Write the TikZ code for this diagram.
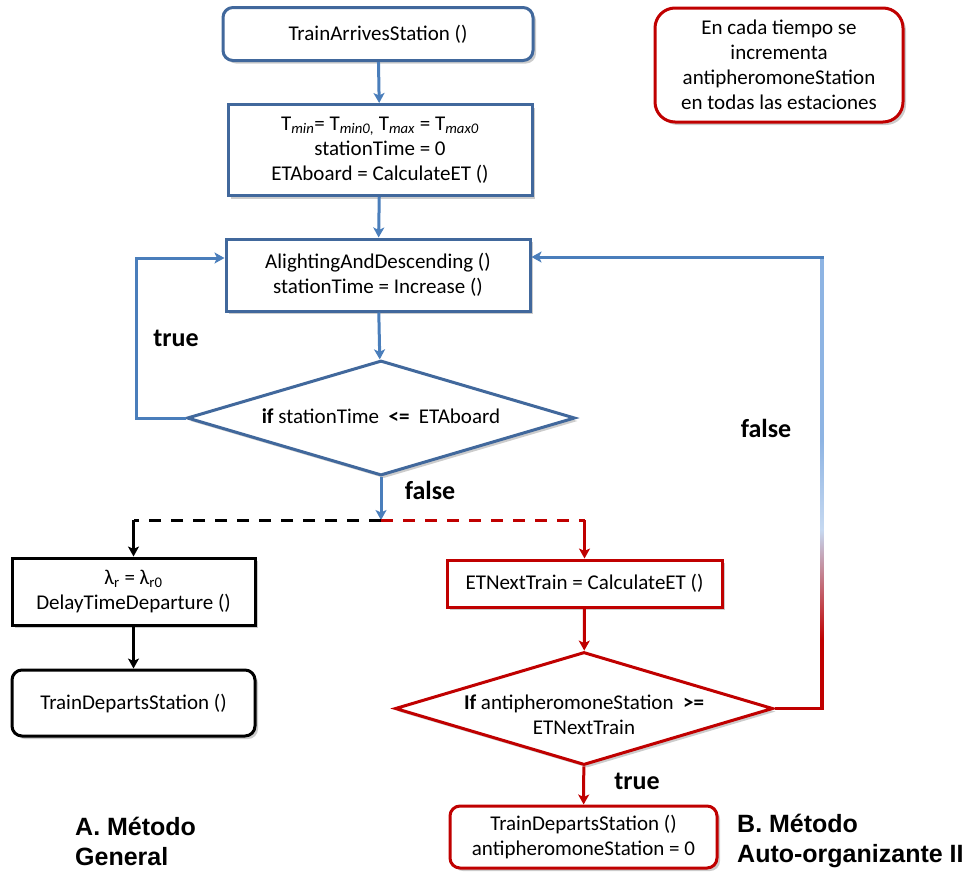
\documentclass[tikz,border=0pt]{standalone}
\usepackage{fontspec}
\setmainfont{Carlito}
\newfontfamily\headfont{Liberation Sans}
\usetikzlibrary{arrows.meta,shapes.geometric,shadows,calc}

\definecolor{bline}{HTML}{4A7EBB}
\definecolor{bborder}{HTML}{41689C}
\definecolor{rline}{HTML}{C00000}
\definecolor{skyb}{HTML}{8EB4E3}
\definecolor{paleb}{HTML}{C6D9F1}

% return line of the false branch: red at the bottom, pale blue higher up
\pgfdeclareverticalshading{falseline}{100bp}{%
  color(0bp)=(rline); color(32.6bp)=(rline); color(44.8bp)=(paleb);
  color(54.7bp)=(skyb); color(100bp)=(skyb)}

\tikzset{
  every node/.style={inner sep=0pt},
  txt/.style={font=\fontsize{21}{25}\selectfont, align=center},
  boxshadow/.style={drop shadow={shadow xshift=3pt, shadow yshift=-3pt, opacity=0.2, fill=black}},
  stepbox/.style={draw, line width=3pt, fill=white, txt, boxshadow},
  bluebox/.style={stepbox, draw=bborder},
  redbox/.style={stepbox, draw=rline},
  blackbox/.style={stepbox, draw=black},
  decision/.style={diamond, draw, line width=3pt, fill=white, boxshadow},
  tip/.style={-{Stealth[length=10pt, width=11pt, inset=2.5pt]}},
  conn/.style={line width=3pt},
  barrow/.style={conn, draw=bline, tip},
  rarrow/.style={conn, draw=rline, tip},
  karrow/.style={conn, draw=black, tip},
  branch/.style={font=\fontsize{26}{30}\selectfont\bfseries},
  method/.style={font=\headfont\fontsize{25}{30}\selectfont\bfseries, align=left, anchor=west},
}

\begin{document}
\begin{tikzpicture}[x=1pt, y=-1pt]
\useasboundingbox (0,0) rectangle (968,871);

% main column
\node[bluebox, rounded corners=10pt, minimum width=310pt, minimum height=53pt] (start) at (378,34) {TrainArrivesStation ()};
\node[bluebox, minimum width=304pt, minimum height=91pt] (init) at (380,150)
  {T\textsubscript{\textit{min}}= T\textsubscript{\textit{min0},} T\textsubscript{\textit{max}} = T\textsubscript{\textit{max0}}\\
   stationTime = 0\\
   ETAboard = CalculateET ()};
\node[bluebox, minimum width=304pt, minimum height=72pt] (alight) at (378,275)
  {AlightingAndDescending ()\\ stationTime = Increase ()};
\node[decision, draw=bborder, minimum width=388pt, minimum height=115pt] (d1) at (381,418) {};
\node[txt] (d1t) at (381,416) {\textbf{if} stationTime~~\textbf{<=}~~ETAboard};

% method A
\node[blackbox, minimum width=243pt, minimum height=67pt] (lam) at (133.5,591.5)
  {λ\textsubscript{r} = λ\textsubscript{r0}\\ DelayTimeDeparture ()};
\node[blackbox, rounded corners=10pt, minimum width=243pt, minimum height=66pt] (depA) at (133.5,703)
  {TrainDepartsStation ()};

% method B
\node[redbox, minimum width=275pt, minimum height=47pt] (etn) at (584.5,583.5) {ETNextTrain = CalculateET ()};
\node[decision, draw=rline, minimum width=378pt, minimum height=113pt] (d2) at (584,708.5) {};
\node[txt] (d2t) at (584,715) {\textbf{If} antipheromoneStation~~\textbf{>=}\\ ETNextTrain};
\node[redbox, rounded corners=10pt, minimum width=267pt, minimum height=62pt] (depB) at (583.5,837)
  {TrainDepartsStation ()\\ antipheromoneStation = 0};

% note
\node[redbox, rounded corners=20pt, minimum width=248pt, minimum height=114pt] (note) at (779,65)
  {En cada tiempo se\\ incrementa\\ antipheromoneStation\\ en todas las estaciones};

% junction points
\coordinate (split) at (381,520);
\coordinate (lsplit) at (133.5,520);
\coordinate (rsplit) at (584.5,520);
\coordinate (tl) at (136,418);
\coordinate (rb) at (822,708.5);
\coordinate (rt) at (822,257);

% connectors
\draw[barrow] (start) -- (init);
\draw[barrow] (init) -- (alight);
\draw[barrow] (alight) -- (d1);
\draw[barrow, line join=miter] (d1.west) -- (tl) |- ([yshift=17pt]alight.west);
\draw[barrow] (d1.south) -- (split);
\draw[conn, draw=black, dash pattern=on 12pt off 10pt] (split) -- (lsplit);
\draw[conn, draw=rline, dash pattern=on 12pt off 10pt] (split) -- (rsplit);
\draw[karrow] (lsplit) -- (lam);
\draw[karrow] (lam) -- (depA);
\draw[rarrow] (rsplit) -- (etn);
\draw[rarrow] (etn) -- (d2);
\draw[rarrow] (d2) -- (depB);

% false branch back to the boarding loop
\draw[conn, draw=rline] (d2.east) -- ([xshift=1.5pt]rb);
\shade[shading=falseline] ([xshift=-1.5pt]rt) rectangle ([xshift=1.5pt]rb);
\draw[barrow] ([xshift=1.5pt]rt) -- ([yshift=18pt]alight.east);

% branch labels
\node[branch] (t1) at (176,338) {true};
\node[branch] (f1) at (430,490) {false};
\node[branch] (f2) at (766,428) {false};
\node[branch] (t2) at (637,781) {true};

% method titles
\node[method] (ma) at (75,841) {A. Método\\ General};
\node[method] (mb) at (737,841) {B. Método\\ Auto-organizante II};
\end{tikzpicture}
\end{document}
